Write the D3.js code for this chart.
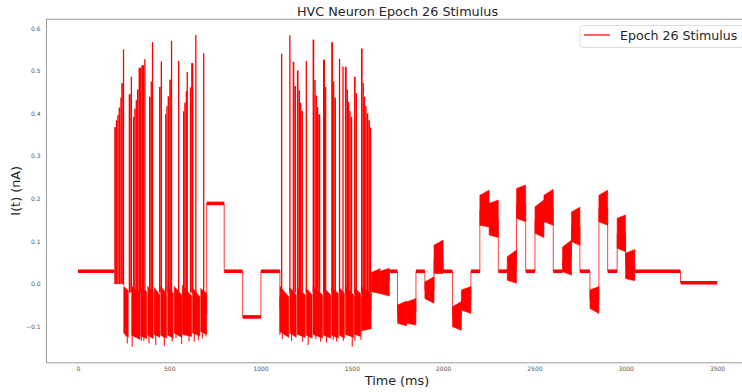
<!doctype html>
<html>

<head>
    <meta charset="UTF-8">
    <title>HVC Neuron Epoch 26 Stimulus</title>
    <script src="https://cdn.jsdelivr.net/npm/d3@7"></script>
    <style>
        body {
            margin: 0;
            background: #fff;
        }

        text {
            font-family: "DejaVu Sans", sans-serif;
        }
    </style>
</head>

<body>
    <svg width="742" height="392"></svg>

    <script>
        // tick labels
        var xTicks = [0, 500, 1000, 1500, 2000, 2500, 3000, 3500];
        var yTicks = [-0.1, 0.0, 0.1, 0.2, 0.3, 0.4, 0.5, 0.6];

        // holding levels: [start ms, end ms, nA]
        var flatLevels = [
            [0, 199, 0.03], [705, 801, 0.189], [801, 902, 0.03], [902, 1002, -0.077], [1002, 1106, 0.03],
            [1705, 1750, 0.03], [1851, 1900, 0.03], [2000, 2051, 0.03], [2152, 2201, 0.03], [2302, 2351, 0.03],
            [2452, 2503, 0.03], [2603, 2654, 0.03], [2749, 2804, 0.03], [2901, 2953, 0.03], [3050, 3300, 0.03],
            [3300, 3501, 0.003]
        ];

        // oscillating pulses: [start ms, end ms, low at start, high at start, low at end, high at end]
        var pulseBlocks = [
            [1606, 1655, -0.018, 0.027, -0.022, 0.036],
            [1655, 1705, -0.022, 0.030, -0.028, 0.037],
            [1750, 1800, -0.092, -0.049, -0.098, -0.040],
            [1800, 1851, -0.092, -0.042, -0.096, -0.034],
            [1900, 1950, -0.034, 0.005, -0.045, 0.017],
            [1950, 2000, 0.025, 0.091, 0.025, 0.103],
            [2051, 2100, -0.100, -0.053, -0.108, -0.041],
            [2100, 2152, -0.061, -0.014, -0.069, -0.006],
            [2201, 2252, 0.138, 0.208, 0.134, 0.220],
            [2252, 2302, 0.115, 0.189, 0.109, 0.197],
            [2351, 2402, 0.009, 0.064, 0.002, 0.080],
            [2402, 2452, 0.154, 0.224, 0.146, 0.232],
            [2503, 2552, 0.119, 0.181, 0.109, 0.197],
            [2552, 2603, 0.146, 0.208, 0.138, 0.222],
            [2654, 2703, 0.029, 0.087, 0.021, 0.103],
            [2703, 2749, 0.099, 0.169, 0.091, 0.180],
            [2804, 2853, -0.057, -0.014, -0.069, -0.006],
            [2853, 2901, 0.146, 0.208, 0.138, 0.220],
            [2953, 2999, 0.084, 0.154, 0.076, 0.162],
            [2999, 3050, 0.013, 0.072, 0.008, 0.081]
        ];

        // spike bursts: [start ms, end ms, low nA, peak nA]
        var burst1Spikes = [
            [199, 208, 0.0, 0.368], [208, 215, 0.0, 0.384], [215, 223, 0.0, 0.396], [223, 232, 0.0, 0.414],
            [232, 237, 0.0, 0.437], [237, 246, 0.0, 0.471], [246, 249, -0.002, 0.550],
            [278, 289, -0.02, 0.445], [289, 292, -0.02, 0.486],
            [301, 308, -0.02, 0.392], [308, 316, -0.02, 0.411], [316, 323, -0.02, 0.431], [323, 332, -0.02, 0.456],
            [332, 347, -0.02, 0.507], [347, 363, -0.02, 0.513], [363, 368, -0.02, 0.527],
            [389, 398, -0.02, 0.439], [398, 405, -0.02, 0.475], [405, 409, -0.02, 0.567],
            [444, 453, -0.02, 0.462], [453, 457, -0.02, 0.522],
            [477, 484, -0.02, 0.398], [484, 491, -0.02, 0.417], [491, 500, -0.02, 0.440], [500, 509, -0.02, 0.479],
            [509, 513, -0.02, 0.570],
            [548, 552, -0.02, 0.523],
            [575, 582, -0.02, 0.405], [582, 590, -0.02, 0.425], [590, 595, -0.02, 0.452], [595, 600, -0.02, 0.497],
            [613, 620, -0.02, 0.461], [620, 632, -0.02, 0.518], [642, 646, -0.02, 0.584],
            [685, 689, -0.02, 0.541]
        ];

        var burst2Spikes = [
            [1112, 1115, -0.02, 0.540],
            [1157, 1160, -0.02, 0.583],
            [1176, 1185, -0.02, 0.521], [1185, 1194, -0.02, 0.464],
            [1199, 1208, -0.02, 0.501], [1208, 1216, -0.02, 0.454], [1216, 1223, -0.02, 0.425], [1223, 1232, -0.02, 0.406],
            [1247, 1250, -0.02, 0.523],
            [1285, 1294, -0.02, 0.573], [1294, 1302, -0.02, 0.478], [1302, 1309, -0.02, 0.442], [1309, 1316, -0.02, 0.415],
            [1316, 1327, -0.02, 0.398],
            [1342, 1353, -0.02, 0.526], [1353, 1360, -0.02, 0.462],
            [1387, 1397, -0.02, 0.567], [1397, 1404, -0.02, 0.475], [1404, 1413, -0.02, 0.437],
            [1429, 1432, -0.02, 0.528],
            [1448, 1451, -0.02, 0.510],
            [1462, 1472, -0.02, 0.509], [1472, 1479, -0.02, 0.456], [1479, 1486, -0.02, 0.427], [1486, 1493, -0.02, 0.406],
            [1493, 1502, -0.02, 0.392],
            [1512, 1521, -0.02, 0.486], [1521, 1528, -0.02, 0.447],
            [1550, 1559, -0.02, 0.552], [1559, 1566, -0.02, 0.471], [1566, 1573, -0.02, 0.439], [1573, 1581, -0.02, 0.417],
            [1581, 1590, -0.02, 0.400], [1590, 1599, -0.02, 0.384], [1599, 1606, -0.02, 0.367]
        ];

        // undershoot wedges after spikes: [start ms, end ms, top at start, bottom at start, top at end, bottom at end]
        var burst1Floor = [
            [250, 276, -0.005, -0.115, -0.015, -0.125],
            [294, 340, -0.005, -0.120, -0.020, -0.130],
            [343, 377, -0.008, -0.122, -0.018, -0.128],
            [382, 413, -0.005, -0.120, -0.020, -0.128],
            [417, 449, -0.008, -0.118, -0.025, -0.125],
            [453, 486, -0.005, -0.120, -0.022, -0.127],
            [491, 522, -0.005, -0.120, -0.022, -0.127],
            [527, 568, -0.005, -0.115, -0.025, -0.125],
            [571, 623, -0.002, -0.118, -0.028, -0.123],
            [627, 668, -0.008, -0.115, -0.030, -0.122],
            [672, 705, -0.010, -0.112, -0.022, -0.118]
        ];

        var burst2Floor = [
            [1106, 1155, -0.005, -0.112, -0.030, -0.125],
            [1160, 1196, -0.008, -0.115, -0.025, -0.125],
            [1200, 1245, -0.008, -0.118, -0.025, -0.125],
            [1250, 1283, -0.010, -0.120, -0.025, -0.127],
            [1287, 1340, -0.005, -0.118, -0.025, -0.127],
            [1344, 1385, -0.008, -0.120, -0.025, -0.127],
            [1389, 1427, -0.008, -0.120, -0.022, -0.127],
            [1431, 1460, -0.008, -0.120, -0.022, -0.127],
            [1464, 1510, -0.005, -0.118, -0.025, -0.125],
            [1514, 1548, -0.008, -0.118, -0.022, -0.123],
            [1552, 1606, -0.005, -0.110, -0.022, -0.105]
        ];

        // deepest undershoots: [ms, nA]
        var burstTroughs = [
            [263, -0.123], [270, -0.139], [297, -0.147], [347, -0.133], [361, -0.133], [389, -0.139],
            [426, -0.143], [467, -0.125], [473, -0.145], [516, -0.135], [537, -0.127], [568, -0.141],
            [608, -0.135], [637, -0.135], [659, -0.131], [681, -0.127], [701, -0.123],
            [1106, -0.119], [1119, -0.129], [1148, -0.115], [1170, -0.133], [1231, -0.135], [1261, -0.143],
            [1303, -0.129], [1329, -0.135], [1362, -0.137], [1398, -0.131], [1417, -0.135], [1453, -0.133],
            [1502, -0.147], [1517, -0.133], [1550, -0.131]
        ];

        var red = "#ff0000";
        var svg = d3.select("svg");

        var x = d3.scaleLinear().domain([-175, 3675]).range([46, 749]);
        var y = d3.scaleLinear().domain([-0.1834, 0.6206]).range([362.3, 19.3]);

        // title and labels
        svg.append("text")
            .attr("x", 397.5)
            .attr("y", 16)
            .attr("text-anchor", "middle")
            .attr("font-size", "12.8px")
            .attr("fill", "#262626")
            .text("HVC Neuron Epoch 26 Stimulus");

        svg.append("text")
            .attr("x", 397)
            .attr("y", 384.5)
            .attr("text-anchor", "middle")
            .attr("font-size", "12.8px")
            .attr("fill", "#262626")
            .text("Time (ms)");

        svg.append("text")
            .attr("transform", "translate(20,190.8) rotate(-90)")
            .attr("text-anchor", "middle")
            .attr("font-size", "12.8px")
            .attr("fill", "#262626")
            .text("I(t) (nA)");

        // axes
        var xAxis = svg.append("g")
            .attr("transform", "translate(0,362.3)")
            .call(d3.axisBottom(x).tickValues(xTicks).tickSize(0).tickPadding(4.5).tickFormat(d3.format("d")));
        var yAxis = svg.append("g")
            .attr("transform", "translate(46,0)")
            .call(d3.axisLeft(y).tickValues(yTicks).tickSize(0).tickPadding(5.5).tickFormat(d3.format(".1f")));

        [xAxis, yAxis].forEach(function(g) {
            g.select(".domain").attr("stroke", "#9a9a9a").attr("stroke-width", 1);
            g.selectAll("text")
                .attr("font-size", "6px")
                .attr("fill", "#555")
                .attr("font-family", "DejaVu Sans, sans-serif");
        });

        svg.append("line")
            .attr("x1", 46).attr("x2", 749)
            .attr("y1", 19.3).attr("y2", 19.3)
            .attr("stroke", "#9a9a9a");
        svg.append("line")
            .attr("x1", 749).attr("x2", 749)
            .attr("y1", 19.3).attr("y2", 362.3)
            .attr("stroke", "#9a9a9a");

        var plot = svg.append("g");

        // quadrilateral blocks (undershoot wedges and pulses)
        var blockArea = d3.area()
            .x(function(d) { return x(d[0]); })
            .y0(function(d) { return y(d[1]); })
            .y1(function(d) { return y(d[2]); });

        function drawBlocks(data, edge) {
            plot.append("g").selectAll("path")
                .data(data)
                .enter().append("path")
                .attr("d", function(d) {
                    return blockArea([[d[0], d[2], d[3]], [d[1], d[4], d[5]]]);
                })
                .attr("fill", red)
                .attr("stroke", red)
                .attr("stroke-width", edge);
        }

        drawBlocks(burst1Floor, 0.4);
        drawBlocks(burst2Floor, 0.4);

        // undershoot lines
        plot.append("g").selectAll("line")
            .data(burstTroughs)
            .enter().append("line")
            .attr("x1", function(d) { return x(d[0]); })
            .attr("x2", function(d) { return x(d[0]); })
            .attr("y1", y(-0.03))
            .attr("y2", function(d) { return y(d[1]); })
            .attr("stroke", red)
            .attr("stroke-width", 1);

        // spike bars
        [burst1Spikes, burst2Spikes].forEach(function(s) {
            plot.append("g").selectAll("rect")
                .data(s)
                .enter().append("rect")
                .attr("x", function(d) { return x(d[0]); })
                .attr("width", function(d) { return Math.max(x(d[1]) - x(d[0]), 1.3); })
                .attr("y", function(d) { return y(d[3]); })
                .attr("height", function(d) { return y(d[2]) - y(d[3]); })
                .attr("fill", red);
        });

        // pulse blocks
        drawBlocks(pulseBlocks, 0.6);

        // holding levels
        plot.append("g").selectAll("line")
            .data(flatLevels)
            .enter().append("line")
            .attr("x1", function(d) { return x(d[0]); })
            .attr("x2", function(d) { return x(d[1]); })
            .attr("y1", function(d) { return y(d[2]); })
            .attr("y2", function(d) { return y(d[2]); })
            .attr("stroke", red)
            .attr("stroke-width", 3.6);

        // vertical connectors between consecutive pieces
        var pieces = [];
        flatLevels.forEach(function(d) {
            pieces.push({ t0: d[0], t1: d[1], a: d[2], b: d[2] });
        });
        pulseBlocks.concat(burst1Floor, burst2Floor).forEach(function(d) {
            pieces.push({ t0: d[0], t1: d[1], a: (d[2] + d[3]) / 2, b: (d[4] + d[5]) / 2 });
        });
        pieces.sort(function(p, q) { return p.t0 - q.t0; });

        var joins = [];
        for (var i = 0; i < pieces.length - 1; i++) {
            if (Math.abs(pieces[i + 1].t0 - pieces[i].t1) < 1) {
                joins.push([pieces[i].t1, pieces[i].b, pieces[i + 1].a]);
            }
        }

        plot.append("g").selectAll("line")
            .data(joins)
            .enter().append("line")
            .attr("x1", function(d) { return x(d[0]); })
            .attr("x2", function(d) { return x(d[0]); })
            .attr("y1", function(d) { return y(d[1]); })
            .attr("y2", function(d) { return y(d[2]); })
            .attr("stroke", red)
            .attr("stroke-opacity", 0.75)
            .attr("stroke-width", 1);

        // legend
        var legend = svg.append("g");
        legend.append("rect")
            .attr("x", 580)
            .attr("y", 25.5)
            .attr("width", 170)
            .attr("height", 22)
            .attr("rx", 3)
            .attr("fill", "#fff")
            .attr("fill-opacity", 0.8)
            .attr("stroke", "#d6d6d6")
            .attr("stroke-width", 0.8);
        legend.append("line")
            .attr("x1", 584).attr("x2", 610)
            .attr("y1", 35).attr("y2", 35)
            .attr("stroke", red)
            .attr("stroke-width", 1.2);
        legend.append("text")
            .attr("x", 620)
            .attr("y", 40)
            .attr("font-size", "12.6px")
            .attr("fill", "#262626")
            .text("Epoch 26 Stimulus");
    </script>
</body>

</html>
